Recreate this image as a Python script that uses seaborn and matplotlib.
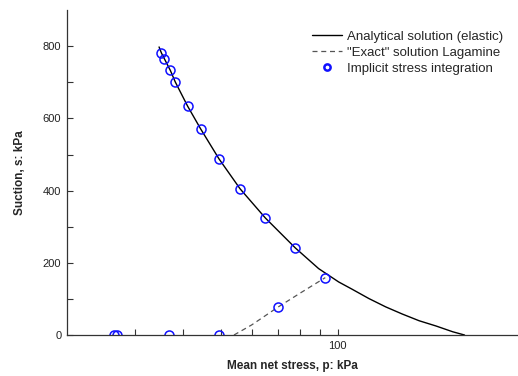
import numpy as np
import matplotlib
matplotlib.use("Agg")
import matplotlib.pyplot as plt
from matplotlib.ticker import FixedLocator, NullFormatter
import seaborn as sns

# Analytical solution (elastic)
p_analytic = [34.6, 35.1, 37.0, 38.1, 41.0, 44.3, 49.4, 56.0,
              65.1, 77.8, 89.3, 100.6, 108.9, 120.4, 133.0, 146.9, 162.3,
              179.4, 198.1, 212.5]
s_analytic = [798, 781, 733, 701, 634, 571, 488, 405,
              324, 241, 184, 147, 127, 101, 78, 58, 39.5,
              25, 9, 0]

# "Exact" solution Lagamine (visible lower branch)
p_exact = [54.0, 60.0, 70.3, 80.0, 92.9]
s_exact = [0, 28, 78, 116, 159]

# Implicit stress integration
p_implicit = [26.5, 27.0, 36.8, 49.4, 70.3, 92.9, 77.8, 65.1, 56.0, 49.4,
              44.3, 41.0, 38.1, 37.0, 35.7, 35.1]
s_implicit = [0, 0, 0, 0, 78, 158, 241, 324, 405, 488,
              571, 634, 701, 733, 765, 781]

sns.set_theme(style="ticks")
plt.rcParams['font.family'] = ['Liberation Sans', 'DejaVu Sans']

fig = plt.figure(figsize=(5.18, 3.76), dpi=100)
ax = fig.add_axes([0.129, 0.109, 0.871, 0.864])

sns.lineplot(x=p_analytic, y=s_analytic, ax=ax, color="black", linewidth=1.0,
             sort=False, label="Analytical solution (elastic)")
sns.lineplot(x=p_exact, y=s_exact, ax=ax, color="#555555", linewidth=0.9,
             linestyle=(0, (4, 3)), sort=False, label='"Exact" solution Lagamine')
ax.plot(p_implicit, s_implicit, linestyle="none", marker="o", markersize=6.5,
        markerfacecolor="none", markeredgecolor="#1010ff", markeredgewidth=1.1,
        label="Implicit stress integration")

ax.set_xscale("log")
ax.set_xlim(20, 292)
ax.set_ylim(0, 900)

ax.xaxis.set_major_locator(FixedLocator([100]))
ax.xaxis.set_minor_locator(FixedLocator([30, 40, 50, 60, 70, 80, 90]))
ax.xaxis.set_minor_formatter(NullFormatter())
ax.set_xticklabels(["100"])
ax.set_yticks(range(0, 900, 100))
ax.set_yticklabels([str(v) if v % 200 == 0 else "" for v in range(0, 900, 100)])

ax.tick_params(axis="both", which="both", direction="in", length=4, width=0.8,
               labelsize=8, colors="#333333", labelcolor="#222222", pad=4)
ax.tick_params(axis="x", which="minor", length=4)

for side in ["top", "right"]:
    ax.spines[side].set_visible(False)
for side in ["left", "bottom"]:
    ax.spines[side].set_color("#333333")
    ax.spines[side].set_linewidth(0.9)

ax.set_xlabel("Mean net stress, p: kPa", fontsize=8.5, fontweight="bold", labelpad=7)
ax.set_ylabel("Suction, s: kPa", fontsize=8.5, fontweight="bold", labelpad=12)

leg = ax.legend(loc="upper right", bbox_to_anchor=(0.985, 0.962), frameon=False,
                fontsize=9.5, handlelength=2.3, handletextpad=0.4,
                labelspacing=0.3, borderaxespad=0.2)
mk = leg.legend_handles[2]
mk.set_markersize(4.5)
mk.set_markeredgewidth(1.8)

fig.savefig("out.png", dpi=100)
